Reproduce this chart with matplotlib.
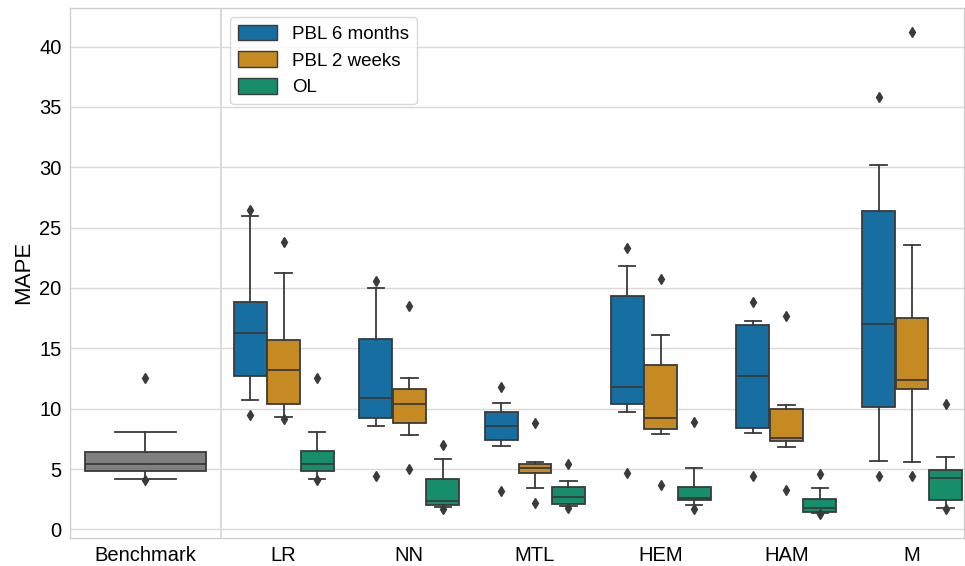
import numpy as np
import matplotlib
matplotlib.use("Agg")
import matplotlib.pyplot as plt
from matplotlib.patches import Patch

# Categories and hue levels
CATEGORIES = ["LR", "NN", "MTL", "HEM", "HAM", "M"]
HUES = ["PBL 6 months", "PBL 2 weeks", "OL"]
COLORS = ["#176ea0", "#c58a22", "#168e6b"]
LINE_COLOR = "#3a3a3a"

# Box statistics, one list per hue, in category order
# (whisker low, q1, median, q3, whisker high)
pbl6_whislo = [10.7, 8.6, 6.9, 9.7, 7.95, 5.7]
pbl6_q1 = [12.7, 9.2, 7.4, 10.4, 8.4, 10.1]
pbl6_med = [16.3, 10.9, 8.6, 11.8, 12.7, 17.0]
pbl6_q3 = [18.8, 15.8, 9.7, 19.35, 16.95, 26.4]
pbl6_whishi = [26.0, 20.0, 10.5, 21.8, 17.3, 30.2]
pbl6_fliers = [[26.45, 9.45], [20.6, 4.4], [11.8, 3.2], [23.35, 4.7], [18.85, 4.4], [35.8, 4.4]]

pbl2_whislo = [9.3, 7.8, 3.4, 7.9, 6.8, 5.6]
pbl2_q1 = [10.4, 8.8, 4.7, 8.3, 7.35, 11.65]
pbl2_med = [13.2, 10.4, 5.1, 9.25, 7.6, 12.4]
pbl2_q3 = [15.7, 11.65, 5.45, 13.6, 10.0, 17.5]
pbl2_whishi = [21.2, 12.5, 5.6, 16.1, 10.3, 23.55]
pbl2_fliers = [[23.8, 9.15], [18.5, 5.0], [8.8, 2.2], [20.75, 3.7], [17.65, 3.3], [41.2, 4.45]]

ol_whislo = [4.2, 1.85, 1.9, 2.0, 1.35, 1.75]
ol_q1 = [4.8, 2.0, 2.1, 2.4, 1.4, 2.45]
ol_med = [5.45, 2.35, 2.65, 2.6, 1.75, 4.25]
ol_q3 = [6.5, 4.15, 3.5, 3.5, 2.55, 4.95]
ol_whishi = [8.1, 5.8, 4.0, 5.1, 3.4, 6.0]
ol_fliers = [[12.5, 4.05], [7.0, 1.65], [5.4, 1.75], [8.9, 1.65], [4.6, 1.3], [10.4, 1.65]]

# Benchmark box
bench_label = "Benchmark"
bench_stats = [4.2, 4.8, 5.45, 6.45, 8.1]
bench_fliers = [12.5, 4.05]

Y_TICKS = [0, 5, 10, 15, 20, 25, 30, 35, 40]

series = [
    (pbl6_whislo, pbl6_q1, pbl6_med, pbl6_q3, pbl6_whishi, pbl6_fliers),
    (pbl2_whislo, pbl2_q1, pbl2_med, pbl2_q3, pbl2_whishi, pbl2_fliers),
    (ol_whislo, ol_q1, ol_med, ol_q3, ol_whishi, ol_fliers),
]

plt.rcParams["font.family"] = ["Liberation Sans", "DejaVu Sans"]

fig = plt.figure(figsize=(9.65, 5.66), dpi=100)
ax = fig.add_axes([0.0725, 0.05, 0.926, 0.936])

line_kw = dict(color=LINE_COLOR, linewidth=1.3)
flier_kw = dict(marker="d", markersize=5, markerfacecolor=LINE_COLOR,
                markeredgecolor=LINE_COLOR, linestyle="none")


def draw_boxes(stats, positions, width, color):
    bp = ax.bxp(stats, positions=positions, widths=width, patch_artist=True,
                boxprops=dict(facecolor=color, edgecolor=LINE_COLOR, linewidth=1.3),
                whiskerprops=line_kw, capprops=line_kw, medianprops=line_kw,
                flierprops=flier_kw, manage_ticks=False)
    # seaborn style caps: half the box width
    for cap in bp["caps"]:
        x0, x1 = cap.get_xdata()
        mid = (x0 + x1) / 2
        cap.set_xdata([mid - width / 4, mid + width / 4])
    return bp


n_hue = len(HUES)
hue_w = 0.8 / n_hue
box_w = hue_w * 0.98
cat_pos = np.arange(1, len(CATEGORIES) + 1)

for h, (lo, q1, med, q3, hi, fl) in enumerate(series):
    stats = []
    for i in range(len(CATEGORIES)):
        stats.append(dict(whislo=lo[i], q1=q1[i], med=med[i], q3=q3[i],
                          whishi=hi[i], fliers=fl[i]))
    offs = (h - (n_hue - 1) / 2) * hue_w
    draw_boxes(stats, cat_pos + offs, box_w, COLORS[h])

bench = dict(whislo=bench_stats[0], q1=bench_stats[1], med=bench_stats[2],
             q3=bench_stats[3], whishi=bench_stats[4], fliers=bench_fliers)
draw_boxes([bench], [-0.1], 0.96, "#808080")

ax.axvline(0.5, color="#d3d3d3", linewidth=1.2, zorder=0)

ax.set_xlim(-0.7, 6.41)
ax.set_ylim(-0.69, 43.2)
ax.set_xticks([-0.1] + list(cat_pos))
ax.set_xticklabels([bench_label] + CATEGORIES)
ax.set_yticks(Y_TICKS)
ax.tick_params(axis="both", labelsize=14.5, length=0, pad=6)
ax.set_ylabel("MAPE", fontsize=16)

ax.yaxis.grid(True, color="#d9d9d9", linewidth=1.0)
ax.set_axisbelow(True)
for s in ax.spines.values():
    s.set_color("#d0d0d0")
    s.set_linewidth(1.0)

handles = [Patch(facecolor=c, edgecolor=LINE_COLOR, linewidth=1.0) for c in COLORS]
leg = ax.legend(handles, HUES, loc="upper left", bbox_to_anchor=(0.169, 1.0),
                fontsize=13.5, frameon=True, fancybox=True, borderaxespad=0.5,
                handlelength=2.1, handleheight=0.9, labelspacing=0.45)
leg.get_frame().set_edgecolor("#d0d0d0")

fig.savefig("out.png", dpi=100)
